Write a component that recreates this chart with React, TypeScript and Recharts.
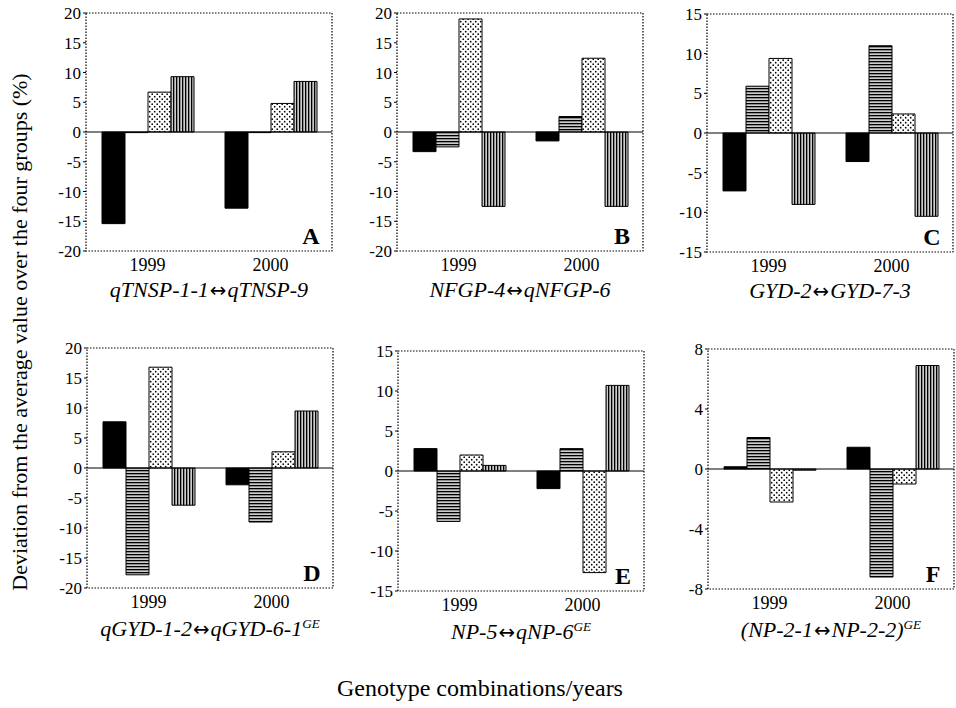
import React from 'react';
import { BarChart, Bar, XAxis, YAxis, ReferenceLine, ReferenceArea } from 'recharts';

// ---------- data ----------
const years = ['1999', '2000'];
const groupKeys = ['g1', 'g2', 'g3', 'g4'];

const A_1999 = [-15.4, -0.1, 6.7, 9.3];
const A_2000 = [-12.8, -0.1, 4.8, 8.5];
const B_1999 = [-3.3, -2.5, 19.0, -12.5];
const B_2000 = [-1.5, 2.6, 12.4, -12.5];
const C_1999 = [-7.3, 5.9, 9.4, -9.0];
const C_2000 = [-3.6, 11.0, 2.4, -10.5];
const D_1999 = [7.7, -17.8, 16.8, -6.2];
const D_2000 = [-2.8, -9.0, 2.7, 9.5];
const E_1999 = [2.8, -6.3, 2.0, 0.7];
const E_2000 = [-2.2, 2.8, -12.7, 10.7];
const F_1999 = [0.15, 2.1, -2.2, -0.08];
const F_2000 = [1.45, -7.2, -1.0, 6.9];

const ticks20 = [-20, -15, -10, -5, 0, 5, 10, 15, 20];
const ticks15 = [-15, -10, -5, 0, 5, 10, 15];
const ticks8 = [-8, -4, 0, 4, 8];

const fills = ['#000', 'url(#hstripe)', 'url(#dots)', 'url(#vstripe)'];

const SERIF = 'Liberation Serif, DejaVu Serif, serif';

function rows(v1999: number[], v2000: number[]) {
  return years.map((y, i) => {
    const src = i === 0 ? v1999 : v2000;
    const r: any = { year: y };
    groupKeys.forEach((k, j) => (r[k] = src[j]));
    return r;
  });
}

const PW = 246;
const YW = 60;
const MT = 10;
const XH = 40;

type PanelCfg = {
  letter: string;
  left: number;
  top: number;
  h: number;
  ticks: number[];
  data: any[];
  sub: React.ReactNode;
};

const sup = (t: string) => <sup style={{ fontSize: '0.6em' }}>{t}</sup>;
const arrow = <span style={{ fontStyle: 'normal', fontFamily: 'DejaVu Sans', fontSize: '0.9em', margin: '0 1px' }}>↔</span>;

const panels: PanelCfg[] = [
  { letter: 'A', left: 86, top: 13, h: 238, ticks: ticks20, data: rows(A_1999, A_2000), sub: <>qTNSP-1-1{arrow}qTNSP-9</> },
  { letter: 'B', left: 397, top: 13, h: 238, ticks: ticks20, data: rows(B_1999, B_2000), sub: <>NFGP-4{arrow}qNFGP-6</> },
  { letter: 'C', left: 707, top: 14, h: 238, ticks: ticks15, data: rows(C_1999, C_2000), sub: <>GYD-2{arrow}GYD-7-3</> },
  { letter: 'D', left: 87, top: 348, h: 240, ticks: ticks20, data: rows(D_1999, D_2000), sub: <>qGYD-1-2{arrow}qGYD-6-1{sup('GE')}</> },
  { letter: 'E', left: 398, top: 351, h: 240, ticks: ticks15, data: rows(E_1999, E_2000), sub: <>NP-5{arrow}qNP-6{sup('GE')}</> },
  { letter: 'F', left: 708, top: 349, h: 240, ticks: ticks8, data: rows(F_1999, F_2000), sub: <>(NP-2-1{arrow}NP-2-2){sup('GE')}</> },
];

function Panel({ p }: { p: PanelCfg }) {
  const min = p.ticks[0];
  const max = p.ticks[p.ticks.length - 1];
  return (
    <div style={{ position: 'absolute', left: p.left - YW, top: p.top - MT }}>
      <BarChart
        width={YW + PW + 2}
        height={MT + p.h + XH}
        data={p.data}
        margin={{ top: MT, right: 2, left: 0, bottom: 0 }}
        barCategoryGap={16}
        barGap={0}
      >
        <XAxis
          dataKey="year"
          axisLine={false}
          tickLine={false}
          tickSize={0}
          tickMargin={7}
          height={XH}
          tick={{ fill: '#000', fontSize: 18, fontFamily: SERIF }}
        />
        <YAxis
          type="number"
          domain={[min, max]}
          ticks={p.ticks}
          interval={0}
          width={YW}
          axisLine={false}
          tickLine={{ stroke: '#000' }}
          tickSize={3}
          tickMargin={2}
          allowDataOverflow
          tick={{ fill: '#000', fontSize: 17, fontFamily: SERIF }}
        />
        <ReferenceArea y1={min} y2={max} fill="none" stroke="#000" strokeWidth={1.2} strokeDasharray="1.5 1.5" />
        <ReferenceLine y={0} stroke="#000" strokeWidth={1} />
        {groupKeys.map((k, i) => (
          <Bar key={k} dataKey={k} fill={fills[i]} stroke="#000" strokeWidth={1} isAnimationActive={false} />
        ))}
      </BarChart>
    </div>
  );
}

export default function App() {
  return (
    <div style={{ position: 'absolute', left: 0, top: 0, width: 956, height: 708, background: '#fff', overflow: 'hidden', fontFamily: SERIF }}>
      <svg width={0} height={0} style={{ position: 'absolute' }}>
        <defs>
          <pattern id="hstripe" patternUnits="userSpaceOnUse" width={4} height={3}>
            <rect x={0} y={0} width={4} height={3} fill="#cccccc" />
            <rect x={0} y={0} width={4} height={1.3} fill="#000" />
          </pattern>
          <pattern id="vstripe" patternUnits="userSpaceOnUse" width={3} height={4}>
            <rect x={0} y={0} width={3} height={4} fill="#cccccc" />
            <rect x={0} y={0} width={1.3} height={4} fill="#000" />
          </pattern>
          <pattern id="dots" patternUnits="userSpaceOnUse" width={5} height={5}>
            <rect x={0} y={0} width={5} height={5} fill="#fff" />
            <circle cx={1.2} cy={1.2} r={0.85} fill="#000" />
            <circle cx={3.7} cy={3.7} r={0.85} fill="#000" />
          </pattern>
        </defs>
      </svg>

      {panels.map((p) => (
        <Panel key={p.letter} p={p} />
      ))}

      {panels.map((p) => (
        <div
          key={'s' + p.letter}
          style={{
            position: 'absolute',
            left: p.left + PW / 2,
            top: p.top + p.h + 39,
            transform: 'translate(-50%, -50%)',
            whiteSpace: 'nowrap',
            fontStyle: 'italic',
            fontSize: 22,
            lineHeight: '26px',
          }}
        >
          {p.sub}
        </div>
      ))}

      {panels.map((p) => (
        <div
          key={'l' + p.letter}
          style={{
            position: 'absolute',
            left: p.left + PW - 21,
            top: p.top + p.h - 15,
            transform: 'translate(-50%, -50%)',
            fontWeight: 'bold',
            fontSize: 24,
            lineHeight: '26px',
          }}
        >
          {p.letter}
        </div>
      ))}

      <div
        style={{
          position: 'absolute',
          left: 20,
          top: 332,
          transform: 'translate(-50%, -50%) rotate(-90deg)',
          whiteSpace: 'nowrap',
          fontSize: 22,
          lineHeight: '26px',
        }}
      >
        Deviation from the average value over the four groups (%)
      </div>

      <div
        style={{
          position: 'absolute',
          left: 480,
          top: 688,
          transform: 'translate(-50%, -50%)',
          whiteSpace: 'nowrap',
          fontSize: 24,
          lineHeight: '26px',
        }}
      >
        Genotype combinations/years
      </div>
    </div>
  );
}
